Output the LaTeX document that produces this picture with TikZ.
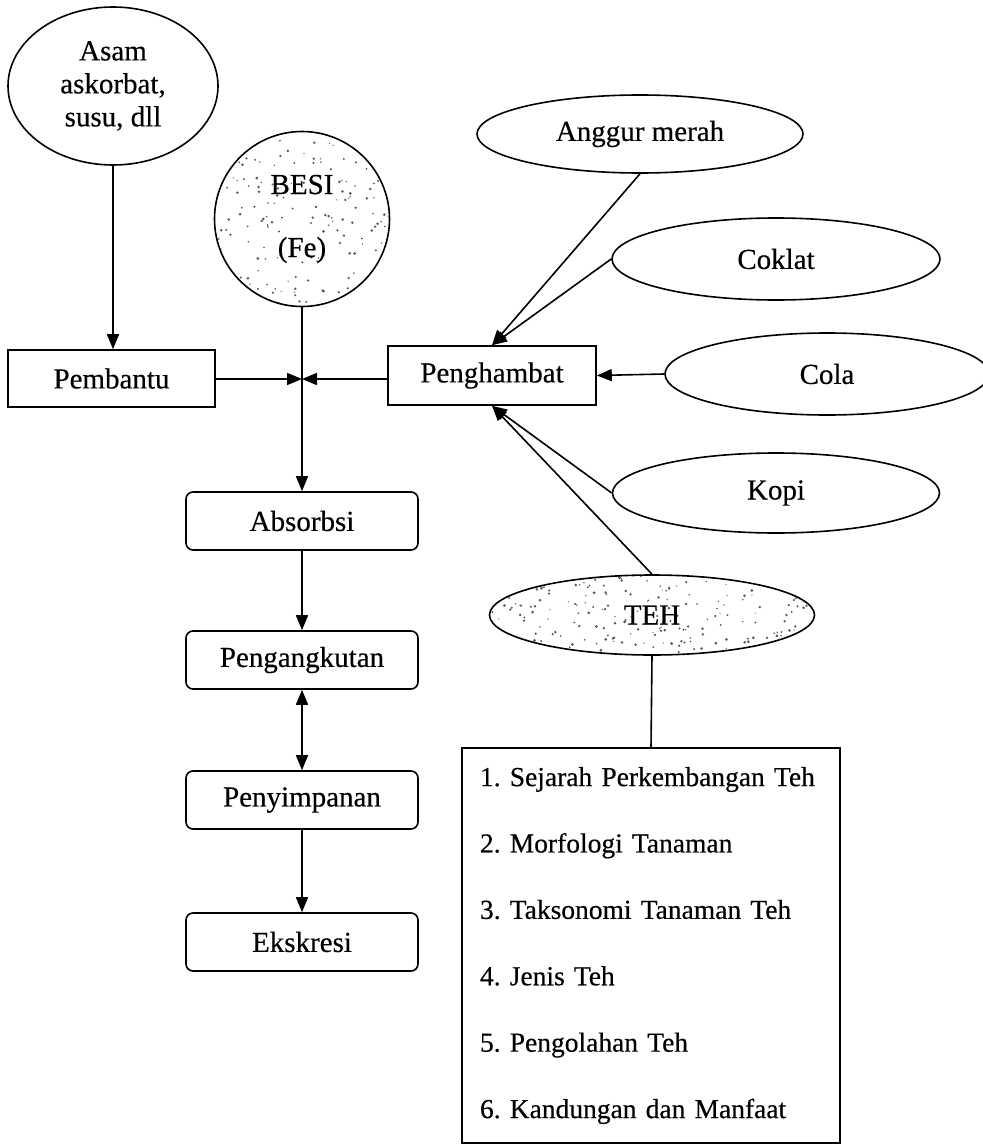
\documentclass[tikz,border=0pt]{standalone}
\usepackage{fontspec}
\setmainfont{Liberation Serif}[BoldFont=Liberation Serif, BoldFeatures={FakeBold=0.4}]
\usetikzlibrary{arrows.meta,shapes.geometric}
\tikzset{
  stipple/.style n args={3}{path picture={
    \foreach \k in {1,...,#1}{
      \pgfmathsetmacro{\dx}{rand*#2}
      \pgfmathsetmacro{\dy}{rand*#3}
      \pgfmathsetmacro{\rr}{0.6+0.9*rnd}
      \fill[black!65] ([shift={(\dx pt,\dy pt)}]path picture bounding box.center) circle[radius=\rr pt];
    }}}
}
\begin{document}
\pgfmathsetseed{12}
\begin{tikzpicture}[x=1pt,y=-1pt,
  line width=1.6pt,
  base/.style={draw=black, fill=white, font=\fontsize{29}{34}\selectfont\bfseries, inner sep=0pt, align=center},
  oval/.style={base, ellipse},
  sqbox/.style={base, rectangle},
  rbox/.style={base, rectangle, rounded corners=7pt, minimum width=232pt, minimum height=58pt},
  arr/.style={-{Triangle[length=15pt,width=12pt]}},
  dblarr/.style={{Triangle[length=15pt,width=12pt]}-{Triangle[length=15pt,width=12pt]}}
]
\useasboundingbox (0,0) rectangle (982,1145);

% nodes
\node[oval, font=\fontsize{29}{33}\selectfont\bfseries, minimum width=210pt, minimum height=158pt] (asam) at (113,86) {Asam\\askorbat,\\susu, dll};
\node[base, circle, stipple={200}{90}{90}, minimum size=175pt] (besi) at (302,219) {BESI\\[29pt](Fe)};
\node[sqbox, minimum width=207pt, minimum height=57pt] (pembantu) at (111.5,378.5) {Pembantu};
\node[sqbox, minimum width=208pt, minimum height=59pt] (pengh) at (492,375.5) {Penghambat};
\node[oval, minimum width=326pt, minimum height=78pt] (anggur) at (640,134) {Anggur merah};
\node[oval, minimum width=328pt, minimum height=82pt] (coklat) at (776,259) {Coklat};
\node[oval, minimum width=324pt, minimum height=82pt] (cola) at (827,374) {Cola};
\node[oval, minimum width=327pt, minimum height=80pt] (kopi) at (776,493) {Kopi};
\node[oval, stipple={240}{165}{42}, minimum width=325pt, minimum height=80pt] (teh) at (652,615) {TEH};
\node[rbox] (abs) at (302,521) {Absorbsi};
\node[rbox] (angkut) at (302,660) {Pengangkutan};
\node[rbox] (simpan) at (302,800) {Penyimpanan};
\node[rbox] (eks) at (302,942) {Ekskresi};
\node[sqbox, minimum width=378pt, minimum height=395pt, text width=342pt, align=left,
      font=\fontsize{27.5}{66.4}\selectfont\bfseries\frenchspacing] (list) at (651,945.5)
  {1. Sejarah Perkembangan Teh\\2. Morfologi Tanaman\\3. Taksonomi Tanaman Teh\\4. Jenis Teh\\5. Pengolahan Teh\\6. Kandungan dan Manfaat};

% connectors
\coordinate (j) at (302,379);
\draw[arr] (asam.south) -- (asam.south |- pembantu.north);
\draw[arr] (pembantu.east |- j) -- (j);
\draw[arr] (pengh.west |- j) -- (j);
\draw[arr] (besi.south) -- (abs.north);
\draw[arr] (abs) -- (angkut);
\draw[dblarr] (angkut) -- (simpan);
\draw[arr] (simpan) -- (eks);
\draw[arr] (anggur.south) -- (pengh.north);
\draw[arr] (coklat.west) -- (pengh.north);
\draw[arr] (cola.west) -- (pengh.east);
\draw[arr] (kopi.west) -- (pengh.south);
\draw[arr] (teh.north) -- (pengh.south);
\draw (teh.south) -- (list.north);
\end{tikzpicture}
\end{document}
